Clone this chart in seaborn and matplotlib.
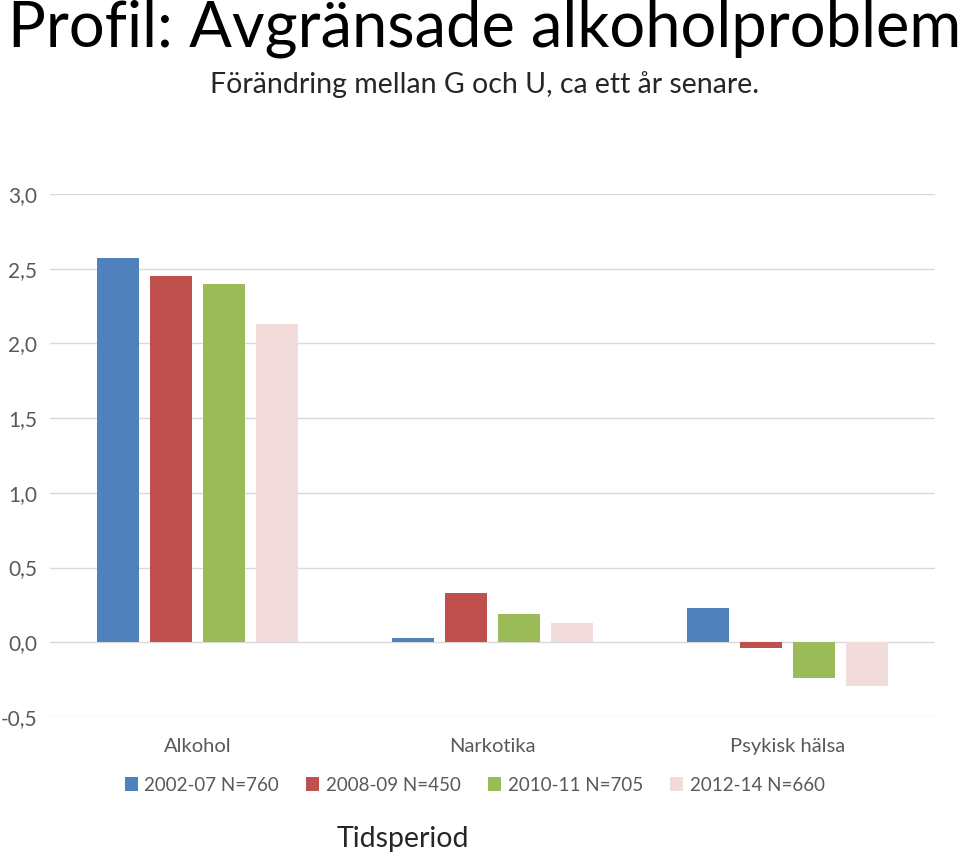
import pandas as pd
import seaborn as sns
import matplotlib.pyplot as plt

categories = ["Alkohol", "Narkotika", "Psykisk hälsa"]
periods = ["2002-07 N=760", "2008-09 N=450", "2010-11 N=705", "2012-14 N=660"]
v_2002 = [2.57, 0.03, 0.23]
v_2008 = [2.45, 0.33, -0.04]
v_2010 = [2.40, 0.19, -0.24]
v_2012 = [2.13, 0.13, -0.29]
yticks = [-0.5, 0.0, 0.5, 1.0, 1.5, 2.0, 2.5, 3.0]
colors = ["#4F81BD", "#C0504D", "#9BBB59", "#F2DCDB"]

rows = []
for period, vals in zip(periods, [v_2002, v_2008, v_2010, v_2012]):
    for cat, v in zip(categories, vals):
        rows.append({"kategori": cat, "period": period, "varde": v})
df = pd.DataFrame(rows)

sns.set_style("white")
plt.rcParams["font.family"] = ["Lato", "DejaVu Sans"]

fig = plt.figure(figsize=(9.6, 8.58), dpi=100)
ax = fig.add_axes([0.052, 0.1643, 0.922, 0.6096])

sns.barplot(data=df, x="kategori", y="varde", hue="period",
            palette=colors, saturation=1, width=0.72, gap=0.2,
            linewidth=0, ax=ax, legend=True)

ax.set_ylim(-0.5, 3.0)
ax.set_yticks(yticks)
ax.set_yticklabels([f"{t:.1f}".replace(".", ",") for t in yticks])
ax.grid(axis="y", color="#D9D9D9", linewidth=1)
ax.set_axisbelow(True)
for s in ax.spines.values():
    s.set_visible(False)
ax.tick_params(axis="y", length=0, colors="#595959", labelsize=15, pad=9)
ax.tick_params(axis="x", length=0, colors="#595959", labelsize=14.5, pad=15)

ax.set_xlabel("")
ax.set_ylabel("")

ax.legend(loc="center", bbox_to_anchor=(0.48, -0.13), ncol=4, frameon=False,
          fontsize=13.5, handlelength=0.7, handleheight=0.7, handletextpad=0.35,
          columnspacing=1.45, labelcolor="#595959")

fig.text(0.008, 0.966, "Profil: Avgränsade alkoholproblem", fontsize=45.5,
         ha="left", va="center", color="black")
fig.text(0.505, 0.902, "Förändring mellan G och U, ca ett år senare.",
         fontsize=20.5, ha="center", va="center", color="#262626")
fig.text(0.42, 0.022, "Tidsperiod", fontsize=20.5, ha="center", va="center")

fig.savefig("out.png", dpi=100)
